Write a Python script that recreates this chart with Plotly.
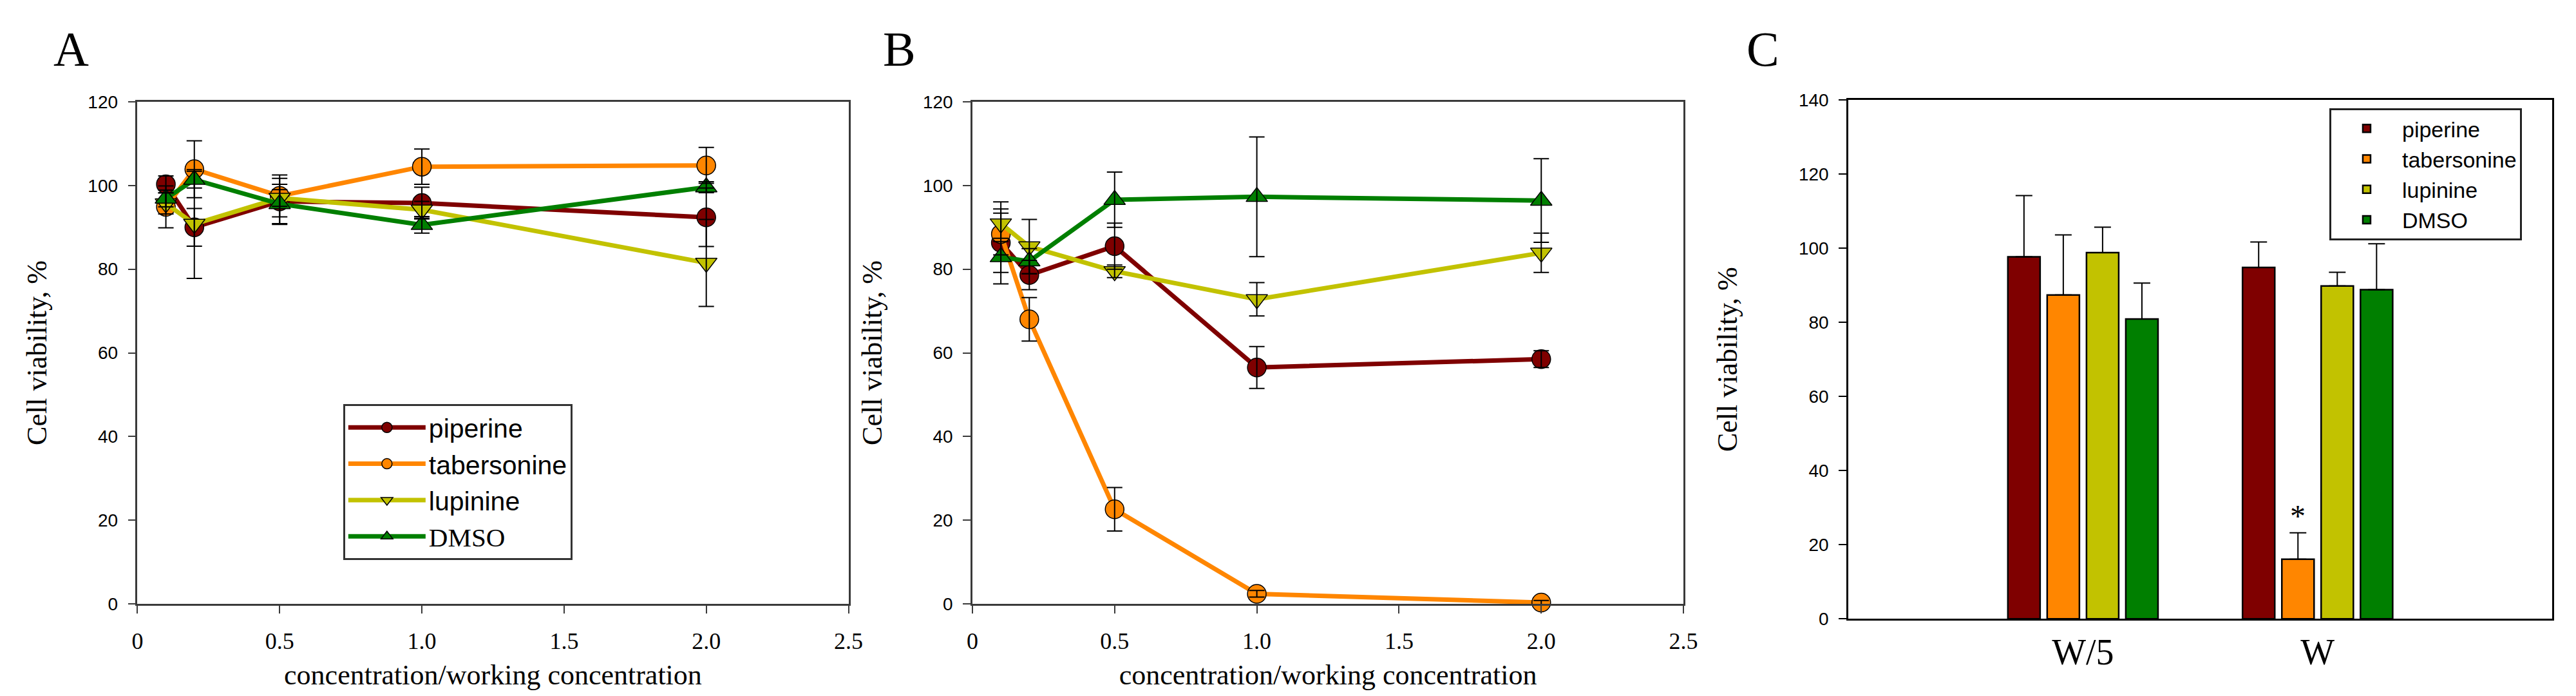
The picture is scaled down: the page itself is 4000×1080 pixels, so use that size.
import plotly.graph_objects as go

# ---------------- data ----------------
conc = [0.1, 0.2, 0.5, 1.0, 2.0]
x_ticks = [0, 0.5, 1.0, 1.5, 2.0, 2.5]
x_ticktext = ["0", "0.5", "1.0", "1.5", "2.0", "2.5"]

series_names = ["piperine", "tabersonine", "lupinine", "DMSO"]

# Panel A
pip_A = [100.3, 90.0, 96.2, 95.8, 92.4]
pip_A_err = [2.0, 4.5, 5.5, 3.8, 7.0]
tab_A = [94.9, 103.9, 97.5, 104.5, 104.8]
tab_A_err = [5.0, 6.8, 5.0, 4.2, 4.3]
lup_A = [95.7, 90.8, 97.0, 94.2, 81.5]
lup_A_err = [2.5, 13.0, 2.0, 2.0, 10.4]
dmso_A = [96.9, 101.4, 95.6, 90.6, 99.6]
dmso_A_err = [2.0, 2.0, 4.7, 2.0, 1.3]

# Panel B
pip_B = [86.3, 78.6, 85.5, 56.5, 58.5]
pip_B_err = [9.8, 3.5, 5.5, 5.0, 2.0]
tab_B = [88.4, 68.0, 22.6, 2.4, 0.3]
tab_B_err = [5.0, 5.2, 5.2, 0.8, 0.5]
lup_B = [90.9, 85.4, 79.5, 72.8, 83.9]
lup_B_err = [3.5, 6.5, 1.5, 4.0, 4.7]
dmso_B = [82.9, 81.9, 96.6, 97.3, 96.4]
dmso_B_err = [3.7, 3.0, 6.6, 14.3, 10.0]

# Panel C
groups_C = ["W/5", "W"]
pip_C = [97.7, 94.8]
pip_C_err = [16.5, 6.9]
tab_C = [87.4, 16.1]
tab_C_err = [16.2, 7.1]
lup_C = [98.8, 89.8]
lup_C_err = [6.9, 3.7]
dmso_C = [80.9, 88.8]
dmso_C_err = [9.7, 12.4]

# ---------------- style ----------------
colors = ["#7F0000", "#FF8600", "#C2C200", "#007F00"]
symbols = ["circle", "circle", "triangle-down", "triangle-up"]
SERIF = "Liberation Serif, Times New Roman, serif"
SANS = "Liberation Sans, Arial, sans-serif"
AXIS_COL = "#3a3a3a"

fig = go.Figure()

panels_lines = [
    ("x", "y", [(pip_A, pip_A_err), (tab_A, tab_A_err), (lup_A, lup_A_err), (dmso_A, dmso_A_err)], True),
    ("x2", "y2", [(pip_B, pip_B_err), (tab_B, tab_B_err), (lup_B, lup_B_err), (dmso_B, dmso_B_err)], False),
]

legend_names = ["piperine", "tabersonine", "lupinine",
                '<span style="font-family:Liberation Serif,serif">DMSO</span>']

for xa, ya, data, show in panels_lines:
    for i, (vals, errs) in enumerate(data):
        fig.add_trace(go.Scatter(
            x=conc, y=vals, xaxis=xa, yaxis=ya,
            mode="lines+markers",
            name=legend_names[i], legend="legend", showlegend=show,
            line=dict(color=colors[i], width=7),
            marker=dict(symbol=symbols[i], size=29, color=colors[i],
                        line=dict(color="black", width=1.5)),
            cliponaxis=False,
        ))
    # error bars drawn on top of markers
    for i, (vals, errs) in enumerate(data):
        fig.add_trace(go.Scatter(
            x=conc, y=vals, xaxis=xa, yaxis=ya,
            mode="markers", showlegend=False, hoverinfo="skip",
            marker=dict(size=1, color="rgba(0,0,0,0)"),
            error_y=dict(type="data", array=errs, visible=True,
                         color="black", thickness=2, width=12),
            cliponaxis=False,
        ))

bar_data = [(pip_C, pip_C_err), (tab_C, tab_C_err), (lup_C, lup_C_err), (dmso_C, dmso_C_err)]
for i, (vals, errs) in enumerate(bar_data):
    fig.add_trace(go.Bar(
        x=groups_C, y=vals, xaxis="x3", yaxis="y3",
        name=series_names[i], legend="legend2",
        marker=dict(color=colors[i], line=dict(color="black", width=2.5)),
        error_y=dict(type="data", symmetric=False, array=errs,
                     arrayminus=[0] * len(errs), color="black",
                     thickness=2, width=13),
    ))

BARGAP = 0.33
BARGROUPGAP = 0.18

def lin_xaxis(domain, anchor):
    return dict(
        domain=domain, anchor=anchor, range=[0, 2.5],
        tickvals=x_ticks, ticktext=x_ticktext,
        ticks="outside", ticklen=12, tickwidth=2, tickcolor=AXIS_COL,
        showline=True, linewidth=3, linecolor=AXIS_COL, mirror=True,
        showgrid=False, zeroline=False,
        tickfont=dict(family=SERIF, size=36, color="black"),
        ticklabelstandoff=12,
        title=dict(text="concentration/working concentration",
                   font=dict(family=SERIF, size=44, color="black"), standoff=18),
    )

def lin_yaxis(domain, anchor, rng, dtick, standoff):
    return dict(
        domain=domain, anchor=anchor, range=rng, dtick=dtick,
        ticks="outside", ticklen=12, tickwidth=2, tickcolor=AXIS_COL,
        showline=True, linewidth=2.5, linecolor=AXIS_COL, mirror=True,
        showgrid=False, zeroline=False,
        tickfont=dict(family=SANS, size=28, color="black"),
        ticklabelstandoff=10,
        title=dict(text="Cell viability, %",
                   font=dict(family=SERIF, size=44, color="black"), standoff=standoff),
    )

yd_AB = [1 - 941 / 1080, 1 - 139 / 1080]
yd_C = [1 - 965 / 1080, 1 - 136 / 1080]

fig.update_layout(
    width=4000, height=1080,
    margin=dict(l=0, r=0, t=0, b=0),
    paper_bgcolor="white", plot_bgcolor="white",
    font=dict(family=SANS, color="black"),
    barmode="group", bargap=BARGAP, bargroupgap=BARGROUPGAP,
    xaxis=lin_xaxis([198 / 4000, 1311 / 4000], "y"),
    yaxis=lin_yaxis(yd_AB, "x", [0, 120], 20, 50),
    xaxis2=lin_xaxis([1505 / 4000, 2618 / 4000], "y2"),
    yaxis2=lin_yaxis(yd_AB, "x2", [0, 120], 20, 50),
    xaxis3=dict(
        domain=[2876 / 4000, 3978 / 4000], anchor="y3", type="category",
        categoryorder="array", categoryarray=groups_C, range=[-1, 2],
        ticks="", showline=True, linewidth=3, linecolor="black", mirror=True,
        showgrid=False, zeroline=False,
        tickfont=dict(family=SERIF, size=56, color="black"),
        ticklabelstandoff=0,
    ),
    yaxis3=dict(lin_yaxis(yd_C, "x3", [0, 140], 20, 82),
                linecolor="black", tickcolor="black"),
    legend=dict(
        x=520 / 4000, y=1 - 622 / 1080, xanchor="left", yanchor="top",
        bgcolor="white", bordercolor="#333333", borderwidth=3,
        font=dict(family=SANS, size=41, color="black"),
        itemwidth=120, tracegroupgap=6,
    ),
    legend2=dict(
        x=3629 / 4000, y=1 - 149 / 1080, xanchor="left", yanchor="top",
        bgcolor="white", bordercolor="#222222", borderwidth=3,
        font=dict(family=SANS, size=34, color="black"),
        itemwidth=100,
    ),
)

# panel letters
for letter, px in [("A", 94), ("B", 1391), ("C", 2742)]:
    fig.add_annotation(text=letter, x=px / 4000, y=1 - 55 / 1080,
                       xref="paper", yref="paper", showarrow=False,
                       xanchor="center", yanchor="middle",
                       font=dict(family=SERIF, size=76, color="black"))

# significance asterisk above tabersonine bar at "W"
n_series = len(bar_data)
slot = (1 - BARGAP) / n_series
tab_idx = 1
grp_idx = groups_C.index("W")
ast_x = grp_idx - (1 - BARGAP) / 2 + (tab_idx + 0.5) * slot
fig.add_annotation(text="*", x=ast_x, y=tab_C[grp_idx] + tab_C_err[grp_idx],
                   xref="x3", yref="y3", showarrow=False,
                   xanchor="center", yanchor="bottom", yshift=-2,
                   font=dict(family=SERIF, size=48, color="black"))

fig.write_html("out.html")
